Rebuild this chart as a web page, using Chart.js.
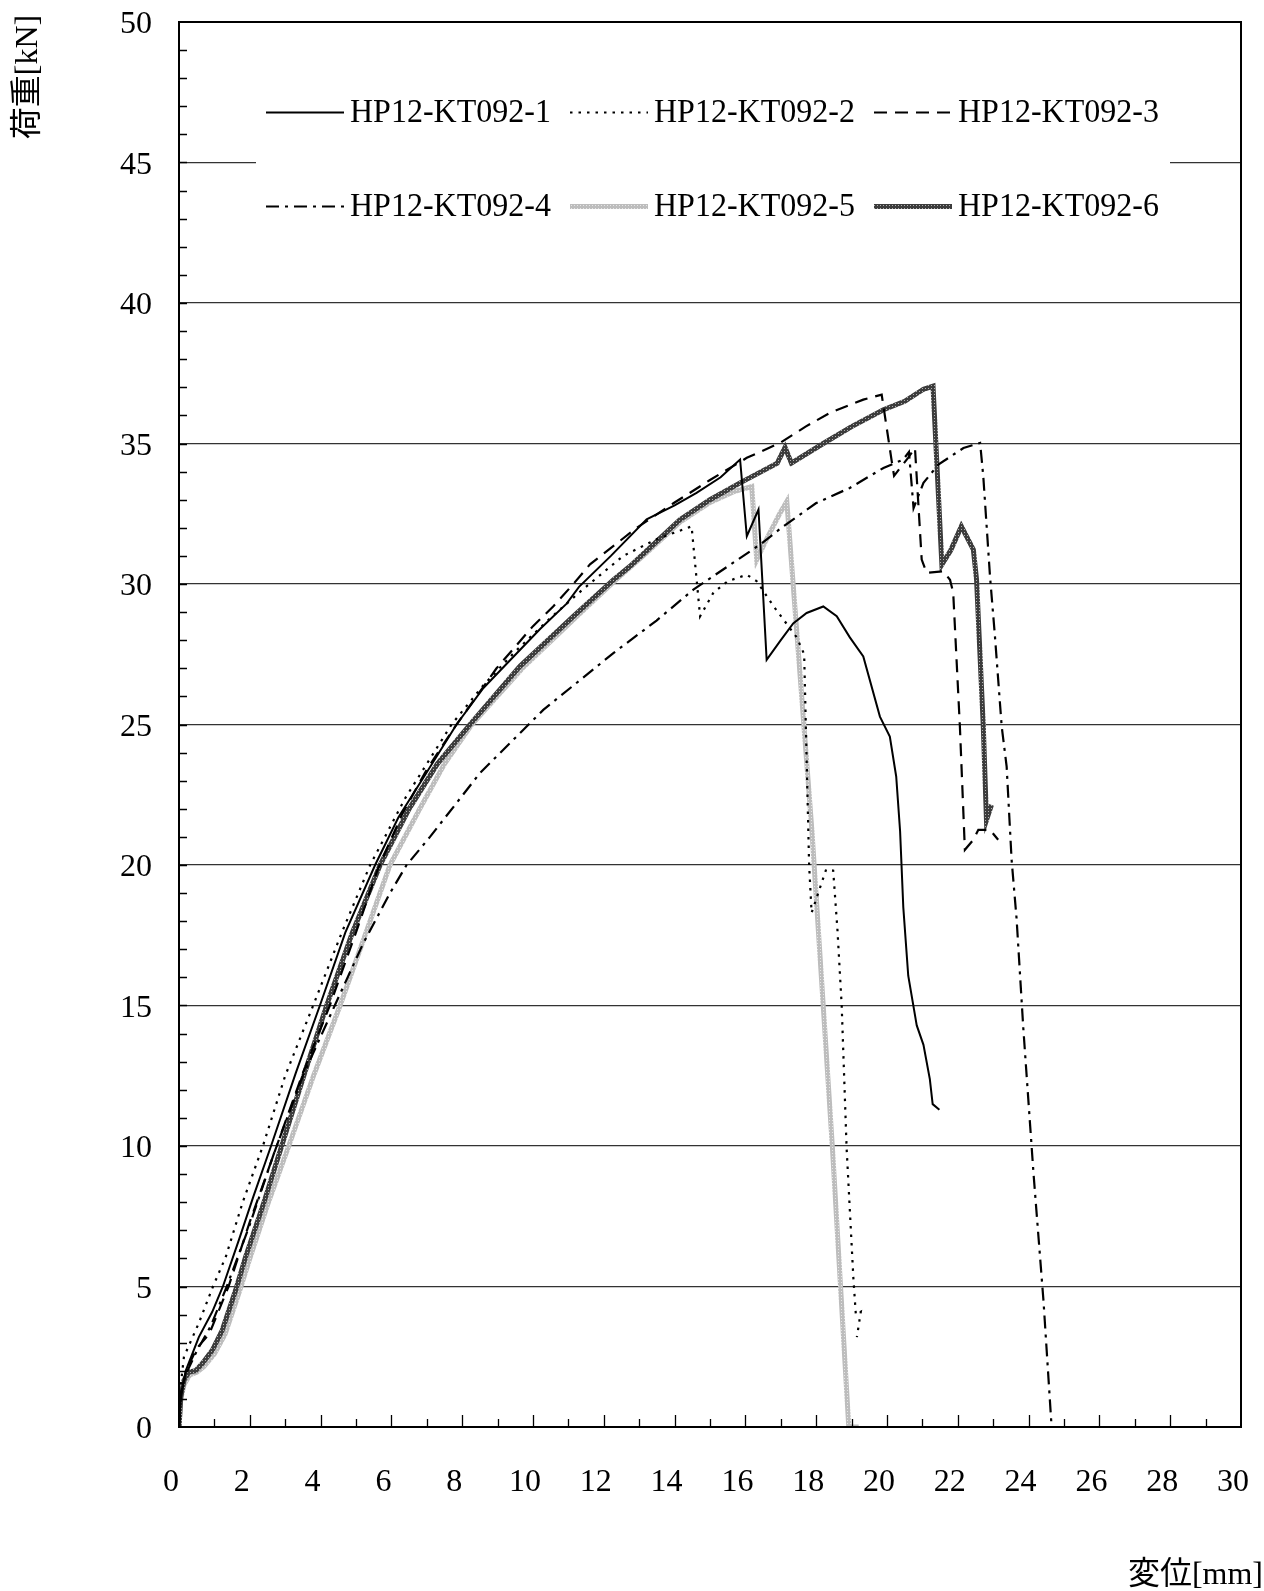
<!DOCTYPE html>
<html>
<head>
<meta charset="utf-8">
<script src="https://cdn.jsdelivr.net/npm/chart.js@4.4.1/dist/chart.umd.min.js"></script>
<style>
  html, body { margin: 0; padding: 0; background: #fff; }
  canvas { display: block; }
</style>
</head>
<body>
<canvas id="loadChart" width="1264" height="1591"></canvas>
<script>
// 変位[mm] / 荷重[kN] readings, one pair of arrays per specimen
const names = ['HP12-KT092-1', 'HP12-KT092-2', 'HP12-KT092-3', 'HP12-KT092-4', 'HP12-KT092-5', 'HP12-KT092-6'];

const s1x = [0, 0.05, 0.19, 0.56, 0.94, 1.24, 1.69, 2.1, 2.6, 3.3, 3.98, 4.7, 5.54, 6.2, 7.0, 7.84, 8.6, 9.44, 10.2, 10.95, 11.3, 12.2, 13.21, 14.0, 14.62, 15.3, 15.85, 16.04, 16.37, 16.6, 17.0, 17.35, 17.73, 18.2, 18.58, 18.95, 19.33, 19.8, 20.08, 20.26, 20.37, 20.46, 20.6, 20.84, 21.03, 21.21, 21.29, 21.48];
const s1y = [0, 1.0, 2.0, 3.2, 4.1, 5.0, 6.65, 8.2, 10, 12.6, 15, 17.6, 20, 21.7, 23.3, 25, 26.3, 27.4, 28.4, 29.3, 29.9, 31.0, 32.3, 32.8, 33.24, 33.8, 34.43, 31.7, 32.65, 27.3, 28.0, 28.6, 28.97, 29.2, 28.85, 28.1, 27.42, 25.28, 24.57, 23.15, 21.2, 18.5, 16.06, 14.29, 13.6, 12.38, 11.49, 11.29];

const s2x = [0, 0.05, 0.14, 0.28, 0.56, 0.96, 1.32, 1.8, 2.37, 3.0, 3.79, 4.6, 5.4, 6.4, 7.7, 8.6, 9.5, 10.5, 11.4, 12.55, 13.5, 14.48, 14.72, 15.1, 15.5, 16.04, 16.32, 16.8, 17.45, 17.66, 17.8, 17.87, 18.28, 18.48, 18.6, 18.72, 18.86, 19.05, 19.12, 19.26, 19.15];
const s2y = [0, 1.5, 2.5, 2.9, 3.7, 5.0, 6.05, 8.0, 10, 12.5, 15, 17.6, 20, 22.4, 25, 26.4, 27.6, 28.8, 29.8, 31.0, 31.6, 32.05, 28.85, 29.7, 30.1, 30.33, 30.1, 29.2, 28.1, 27.5, 20.0, 18.3, 19.84, 19.8, 17.7, 15.0, 9.9, 5.3, 4.0, 4.1, 3.2];

const s3x = [0, 0.05, 0.2, 0.5, 0.85, 1.4, 2.0, 2.76, 3.5, 4.26, 5.0, 5.6, 6.3, 7.0, 7.84, 8.97, 10.0, 10.57, 11.14, 11.61, 12.93, 14.0, 15.0, 16.04, 16.98, 17.7, 18.4, 19.33, 19.85, 20.13, 20.2, 20.6, 20.79, 20.98, 21.12, 21.59, 21.78, 21.87, 22.06, 22.2, 22.44, 22.58, 22.91, 23.14];
const s3y = [0, 1.2, 2.0, 2.8, 3.3, 5.0, 7.3, 10, 12.6, 15, 17.6, 19.8, 21.8, 23.4, 25, 27.0, 28.5, 29.2, 30.0, 30.7, 32.0, 32.9, 33.7, 34.49, 35.02, 35.6, 36.1, 36.56, 36.74, 34.4, 33.85, 34.5, 34.84, 30.87, 30.4, 30.45, 30.15, 29.7, 24.9, 20.54, 20.9, 21.25, 21.25, 20.9];

const s4x = [0, 0.05, 0.2, 0.5, 0.9, 1.35, 2.0, 2.7, 3.5, 4.4, 5.2, 5.96, 6.43, 7.09, 8.5, 10.29, 12.27, 13.49, 14.53, 15.47, 16.41, 17.07, 18.0, 18.95, 19.9, 20.46, 20.62, 20.75, 21.03, 21.45, 22.16, 22.63, 22.72, 22.91, 23.05, 23.24, 23.38, 23.52, 23.66, 23.85, 24.14, 24.42, 24.65, 25.2];
const s4y = [0, 1.2, 1.9, 2.7, 3.6, 5.0, 7.2, 9.8, 12.5, 15, 17.2, 19.0, 20, 21.0, 23.27, 25.52, 27.54, 28.7, 29.8, 30.6, 31.4, 32.05, 32.88, 33.42, 34.13, 34.43, 34.7, 32.7, 33.6, 34.25, 34.84, 35.02, 33.83, 30.27, 28.13, 24.93, 23.5, 20.18, 18.1, 14.2, 9.0, 4.5, 0, 0];

const s5x = [0, 0.05, 0.14, 0.3, 0.5, 0.7, 1.0, 1.3, 1.7, 2.0, 2.5, 3.1, 3.8, 4.55, 5.2, 5.96, 6.8, 7.5, 8.27, 9.7, 11.2, 12.3, 13.2, 14.15, 15.0, 15.7, 16.18, 16.32, 16.6, 16.98, 17.17, 17.5, 17.88, 18.46, 18.92, 19.2];
const s5y = [0, 1.0, 1.5, 1.85, 1.95, 2.15, 2.6, 3.3, 4.8, 6.0, 7.9, 10, 12.5, 15, 17.3, 20, 22.0, 23.6, 25, 27, 28.8, 30.1, 31.1, 32.2, 32.9, 33.3, 33.47, 30.86, 31.6, 32.53, 32.94, 27.5, 21.2, 9.9, 0, 0];

const s6x = [0, 0.05, 0.14, 0.28, 0.47, 0.66, 0.94, 1.22, 1.6, 1.88, 2.4, 2.9, 3.55, 4.17, 4.9, 5.68, 6.5, 7.3, 8.22, 9.63, 11.14, 12.27, 12.74, 14.15, 15.0, 15.85, 16.9, 17.12, 17.3, 18.2, 19.0, 19.9, 20.5, 21.03, 21.3, 21.55, 21.8, 22.1, 22.44, 22.53, 22.72, 22.81, 22.95];
const s6y = [0, 1.07, 1.66, 1.96, 2.0, 2.26, 2.73, 3.44, 4.87, 6.05, 8.0, 10.0, 12.6, 15, 17.6, 20, 22.0, 23.6, 25, 27.07, 28.85, 30.15, 30.63, 32.29, 33.0, 33.6, 34.3, 34.86, 34.3, 35.0, 35.6, 36.2, 36.5, 36.93, 37.04, 30.69, 31.2, 32.05, 31.22, 30.15, 24.93, 21.6, 22.14];

const xTicks = [0, 2, 4, 6, 8, 10, 12, 14, 16, 18, 20, 22, 24, 26, 28, 30];
const yTicks = [0, 5, 10, 15, 20, 25, 30, 35, 40, 45, 50];

const SERIF = '"Liberation Serif", "Noto Sans CJK JP", serif';

function pts(xs, ys) {
    return xs.map((x, i) => ({ x: x, y: ys[i] }));
}

// small textured stroke, like the hatched lines in the original
function makePattern(edge, centre) {
    const c = document.createElement('canvas');
    c.width = 3; c.height = 3;
    const g = c.getContext('2d');
    g.fillStyle = edge;
    g.fillRect(0, 0, 3, 3);
    g.fillStyle = centre;
    g.fillRect(1, 1, 1, 1);
    return g.createPattern(c, 'repeat');
}

const lightPat = makePattern('#bdbdbd', '#e6e6e6');
const darkPat = makePattern('#3c3c3c', '#b0b0b0');

const styles = [
    { color: '#000', width: 2, dash: [], order: 0 },
    { color: '#000', width: 2.2, dash: [2.5, 6], order: 0 },
    { color: '#000', width: 2.2, dash: [13, 8], order: 0 },
    { color: '#000', width: 2.2, dash: [13, 6, 3, 6], order: 0 },
    { color: lightPat, width: 5, dash: [], order: 2 },
    { color: darkPat, width: 5, dash: [], order: 1 }
];

const series = [pts(s1x, s1y), pts(s2x, s2y), pts(s3x, s3y), pts(s4x, s4y), pts(s5x, s5y), pts(s6x, s6y)];

const datasets = series.map((d, i) => ({
    label: names[i],
    data: d,
    showLine: true,
    borderColor: styles[i].color,
    borderWidth: styles[i].width,
    borderDash: styles[i].dash,
    order: styles[i].order,
    pointRadius: 0,
    tension: 0,
    fill: false
}));

// keep the tick labels from pushing the plot area in
function noPad(s) {
    s.paddingTop = 0;
    s.paddingBottom = 0;
    s.paddingLeft = 0;
    s.paddingRight = 0;
}

const decorations = {
    id: 'decorations',
    afterDraw(chart) {
        const ctx = chart.ctx;
        const ca = chart.chartArea;
        const xs = chart.scales.x, ys = chart.scales.y;
        ctx.save();

        // minor ticks pointing inward
        ctx.strokeStyle = '#000';
        ctx.lineWidth = 1.3;
        ctx.beginPath();
        for (let v = 1; v < 50; v++) {
            const py = Math.round(ys.getPixelForValue(v)) + 0.5;
            ctx.moveTo(ca.left, py);
            ctx.lineTo(ca.left + 8, py);
        }
        for (let v = 1; v < 30; v++) {
            const px = Math.round(xs.getPixelForValue(v)) + 0.5;
            ctx.moveTo(px, ca.bottom);
            ctx.lineTo(px, ca.bottom - (v % 2 === 0 ? 12 : 8));
        }
        ctx.stroke();

        // frame
        ctx.lineWidth = 2;
        ctx.strokeRect(ca.left, ca.top, ca.right - ca.left, ca.bottom - ca.top);

        // legend inside the plot
        ctx.fillStyle = '#fff';
        ctx.fillRect(256, 68, 914, 182);
        const rows = [112, 206];
        names.forEach((name, i) => {
            const tx = 350 + 304 * (i % 3);
            const ty = rows[Math.floor(i / 3)];
            const ds = chart.data.datasets[i];
            ctx.beginPath();
            ctx.strokeStyle = ds.borderColor;
            ctx.lineWidth = ds.borderWidth;
            ctx.setLineDash(ds.borderDash);
            ctx.moveTo(tx - 84, ty + 0.5);
            ctx.lineTo(tx - 6, ty + 0.5);
            ctx.stroke();
            ctx.setLineDash([]);

            ctx.save();
            ctx.font = '34px ' + SERIF;
            ctx.fillStyle = '#000';
            ctx.textBaseline = 'middle';
            const w = ctx.measureText(name).width;
            ctx.translate(tx, ty);
            ctx.scale(201 / w, 1);
            ctx.fillText(name, 0, 1);
            ctx.restore();
        });

        // axis titles
        ctx.fillStyle = '#000';
        ctx.font = '32px ' + SERIF;
        ctx.textBaseline = 'middle';
        ctx.save();
        ctx.translate(29, 77);
        ctx.rotate(-Math.PI / 2);
        ctx.textAlign = 'center';
        ctx.fillText('荷重[kN]', 0, 0);
        ctx.restore();

        ctx.textAlign = 'right';
        ctx.fillText('変位[mm]', 1263, 1576);
        ctx.restore();
    }
};

new Chart(document.getElementById('loadChart'), {
    type: 'scatter',
    data: { datasets: datasets },
    options: {
        responsive: false,
        animation: false,
        events: [],
        layout: { padding: { top: 22, right: 23, left: 0, bottom: 0 } },
        plugins: {
            legend: { display: false },
            tooltip: { enabled: false }
        },
        scales: {
            x: {
                type: 'linear',
                min: 0,
                max: 30,
                afterBuildTicks: s => { s.ticks = xTicks.map(v => ({ value: v })); },
                afterFit: s => { s.height = 164; noPad(s); },
                ticks: {
                    color: '#000',
                    font: { family: SERIF, size: 32 },
                    padding: 36,
                    labelOffset: -8,
                    maxRotation: 0,
                    autoSkip: false
                },
                grid: { display: false, drawTicks: false },
                border: { display: false }
            },
            y: {
                type: 'linear',
                min: 0,
                max: 50,
                afterBuildTicks: s => { s.ticks = yTicks.map(v => ({ value: v })); },
                afterFit: s => { s.width = 179; noPad(s); },
                ticks: {
                    color: '#000',
                    font: { family: SERIF, size: 32 },
                    padding: 27,
                    labelOffset: 3,
                    autoSkip: false
                },
                grid: { color: '#333', lineWidth: 1.2, drawTicks: false },
                border: { display: false }
            }
        }
    },
    plugins: [decorations]
});
</script>
</body>
</html>
